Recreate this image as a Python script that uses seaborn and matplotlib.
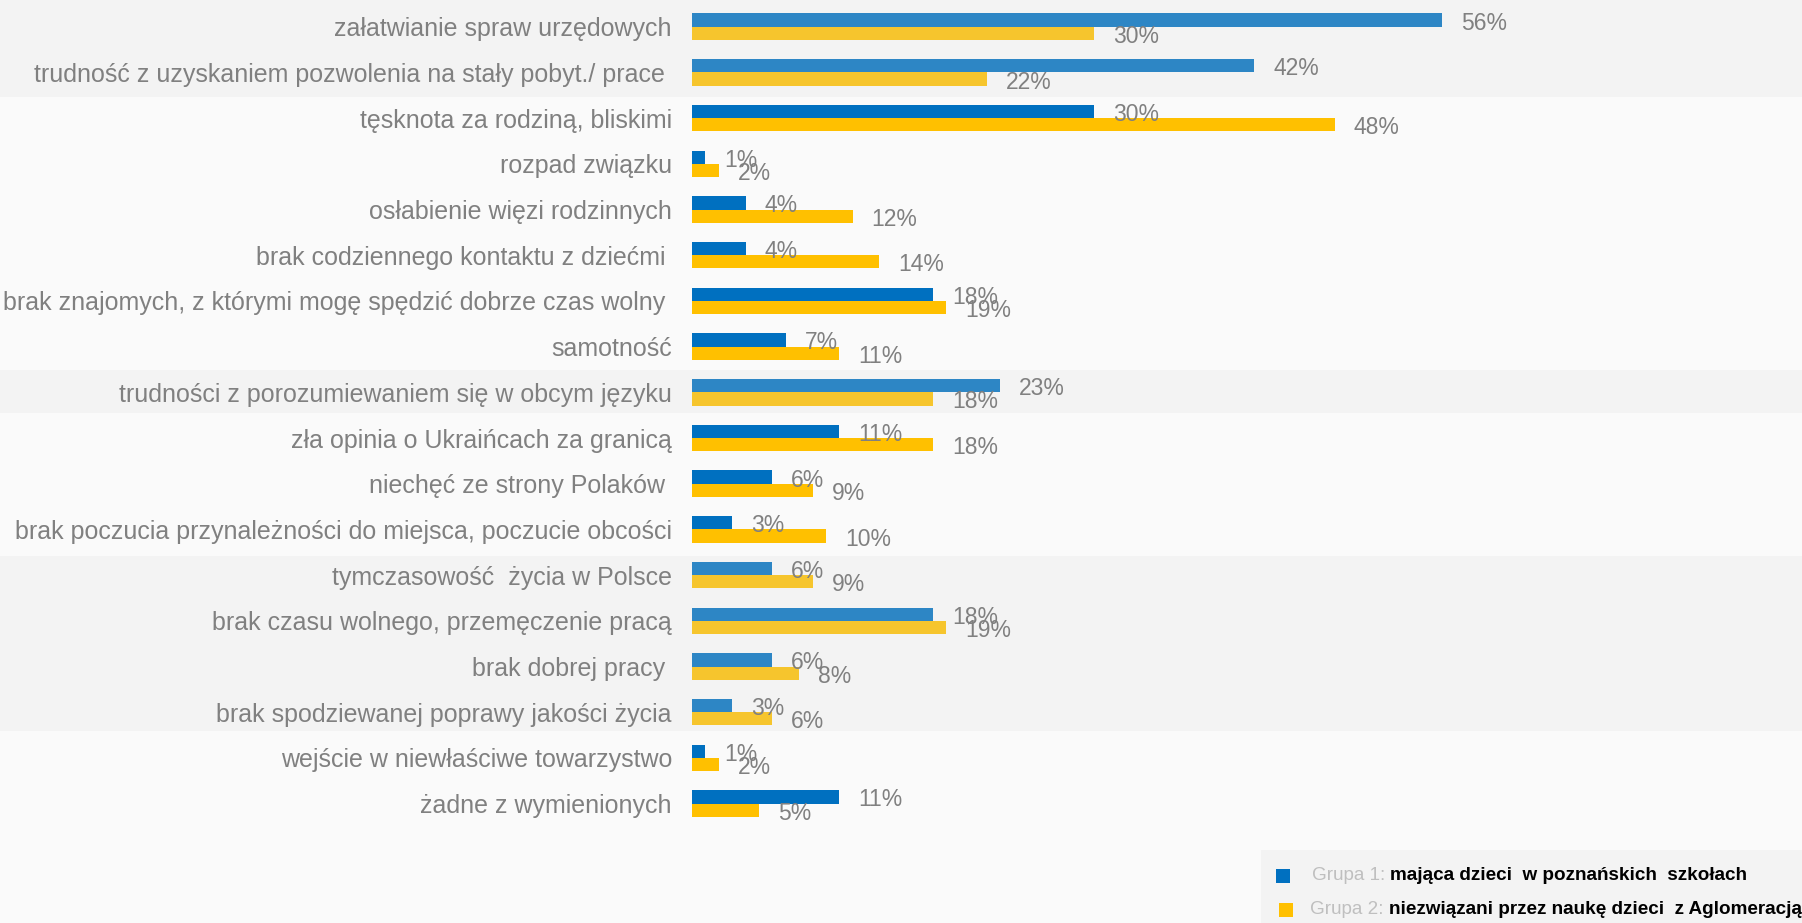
import matplotlib
matplotlib.use("Agg")
import matplotlib.pyplot as plt
from matplotlib.patches import Rectangle
import seaborn as sns
import pandas as pd

# ---------------- data ----------------
categories = [
    "załatwianie spraw urzędowych",
    "trudność z uzyskaniem pozwolenia na stały pobyt./ prace ",
    "tęsknota za rodziną, bliskimi",
    "rozpad związku",
    "osłabienie więzi rodzinnych",
    "brak codziennego kontaktu z dziećmi ",
    "brak znajomych, z którymi mogę spędzić dobrze czas wolny ",
    "samotność",
    "trudności z porozumiewaniem się w obcym języku",
    "zła opinia o Ukraińcach za granicą",
    "niechęć ze strony Polaków ",
    "brak poczucia przynależności do miejsca, poczucie obcości",
    "tymczasowość  życia w Polsce",
    "brak czasu wolnego, przemęczenie pracą",
    "brak dobrej pracy ",
    "brak spodziewanej poprawy jakości życia",
    "wejście w niewłaściwe towarzystwo",
    "żadne z wymienionych",
]
grupa1 = [56, 42, 30, 1, 4, 4, 18, 7, 23, 11, 6, 3, 6, 18, 6, 3, 1, 11]
grupa2 = [30, 22, 48, 2, 12, 14, 19, 11, 18, 18, 9, 10, 9, 19, 8, 6, 2, 5]
group_names = ["Grupa 1", "Grupa 2"]
group_desc = ["mająca dzieci  w poznańskich  szkołach",
              "niezwiązani przez naukę dzieci  z Aglomeracją"]

# ---------------- style ----------------
sns.set_theme(style="white")
plt.rcParams["font.family"] = ["Liberation Sans", "DejaVu Sans"]

BLUE = "#0070C0"
YELLOW = "#FFC000"
GREY_TXT = "#808080"
BG = "#FAFAFA"

W, H = 1802, 923
n = len(categories)
df = pd.DataFrame({
    "kategoria": categories * 2,
    "wartosc": grupa1 + grupa2,
    "grupa": [group_names[0]] * n + [group_names[1]] * n,
})

fig = plt.figure(figsize=(W / 100, H / 100), dpi=100, facecolor=BG)

# legend background drawn first (below everything)
fig.patches.append(Rectangle((1261 / W, 0), (W - 1261) / W, 73 / H,
                             transform=fig.transFigure, facecolor="#F3F3F3",
                             edgecolor="none", zorder=-2))

left_px = 692
ax = fig.add_axes([left_px / W, 0, 1 - left_px / W, 1])
ax.set_facecolor("none")

sns.barplot(data=df, y="kategoria", x="wartosc", hue="grupa",
            hue_order=group_names, order=categories,
            palette=[BLUE, YELLOW], orient="h", width=0.58,
            saturation=1, legend=False, ax=ax, zorder=3,
            edgecolor="none", linewidth=0)

# axis geometry: row 0 centred at 26.7 px, 45.7 px per row; 13.39 px per %
row_px, top_px, pct_px = 45.7, 26.7, 13.39
ax.set_ylim((H - top_px) / row_px, -top_px / row_px)
ax.set_xlim(0, (W - left_px) / pct_px)

ax.set_yticks(range(n))
ax.set_yticklabels(categories)
ax.tick_params(axis="y", length=0, pad=14.4, labelsize=18, labelcolor=GREY_TXT)
ax.set_xticks([])
ax.set_xlabel("")
ax.set_ylabel("")
for s in ax.spines.values():
    s.set_visible(False)
ax.yaxis.set_zorder(6)

# highlighted bands (semi-transparent grey overlay)
bands = [(-0.7, 1.54), (7.51, 8.45), (11.58, 15.41)]
xmin_frac = -left_px / (W - left_px)
for y0, y1 in bands:
    ax.axhspan(y0, y1, xmin=xmin_frac, xmax=1, facecolor="#D9D9D9",
               alpha=0.21, lw=0, zorder=4, clip_on=False)

# value labels
for cont, vals in zip(ax.containers, [grupa1, grupa2]):
    for bar, v in zip(cont, vals):
        ax.annotate(f"{v}%", xy=(bar.get_width(), bar.get_y() + bar.get_height() / 2),
                    xytext=(19, -3), textcoords="offset pixels",
                    ha="left", va="center", fontsize=16.5, color=GREY_TXT, zorder=7)

# legend (manual, two-colour text)
leg_rows = [(1283, 876, 1312), (1286, 910, 1310)]
for (mx, my, tx), col, name, desc in zip(leg_rows, [BLUE, YELLOW], group_names, group_desc):
    sq = 14
    ax.add_patch(Rectangle(((mx - sq / 2) / W, 1 - (my + sq / 2) / H), sq / W, sq / H,
                           transform=fig.transFigure, facecolor=col,
                           edgecolor="none", zorder=8, clip_on=False))
    t1 = ax.text(tx / W, 1 - my / H, name + ": ", ha="left", va="center",
                 fontsize=13.6, color="#BFBFBF", zorder=8,
                 transform=fig.transFigure, clip_on=False)
    ax.annotate(desc, xy=(1, 0.5), xycoords=t1, ha="left", va="center",
                fontsize=13.6, fontweight="bold", color="black",
                annotation_clip=False, zorder=8)

fig.savefig("out.png", dpi=100, facecolor=BG)
